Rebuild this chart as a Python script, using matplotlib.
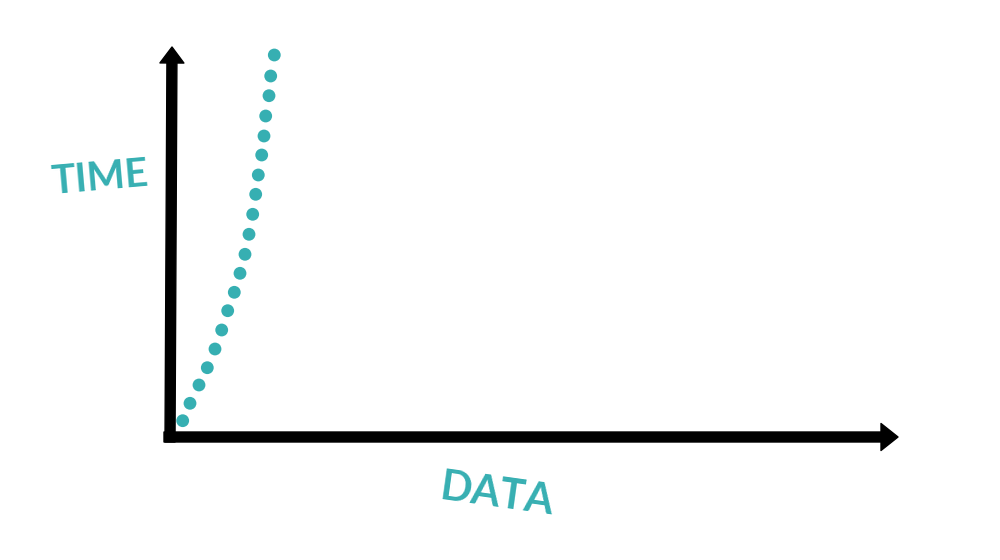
import matplotlib.pyplot as plt
from matplotlib.patches import FancyArrow

# dotted curve (axes units = pixels from the origin)
data_x = [12.7, 20, 29, 37.3, 45, 51.7, 57.7, 64.3, 70, 75,
          79, 82.7, 85.7, 88.3, 91.7, 94, 95.7, 99, 100.7, 104.3]
time_y = [16.3, 33.7, 52, 69.3, 88, 107, 126.3, 144.7, 163.7, 182.7,
          202.7, 222.7, 242.7, 262, 282, 301, 321, 341.3, 361, 382]
x_label = 'DATA'
y_label = 'TIME'
teal = '#36afb2'

fig = plt.figure(figsize=(10, 5.6), dpi=100)
ax = fig.add_axes([0.170, 123 / 560, 0.728, 387 / 560])
ax.set_xlim(0, 728)
ax.set_ylim(0, 387)
ax.axis('off')

# axes drawn as thick arrows
xa = FancyArrow(-6, 0, 734, 0, width=10, head_width=27, head_length=17,
                length_includes_head=True, color='black', joinstyle='round',
                capstyle='round', clip_on=False)
ya = FancyArrow(0, -5, 2, 395, width=10, head_width=24, head_length=16,
                length_includes_head=True, color='black', joinstyle='round',
                capstyle='round', clip_on=False)
ax.add_patch(xa)
ax.add_patch(ya)

ax.scatter(data_x, time_y, s=85, color=teal, edgecolors='none', clip_on=False, zorder=3)

ax.text(-70, 259, y_label, color=teal, fontsize=29, family='Lato', weight='bold',
        ha='center', va='center', rotation=5, clip_on=False)
ax.text(327, -58, x_label, color=teal, fontsize=30, family='Lato', weight='bold',
        ha='center', va='center', rotation=-8, clip_on=False)

plt.savefig('out.png')
